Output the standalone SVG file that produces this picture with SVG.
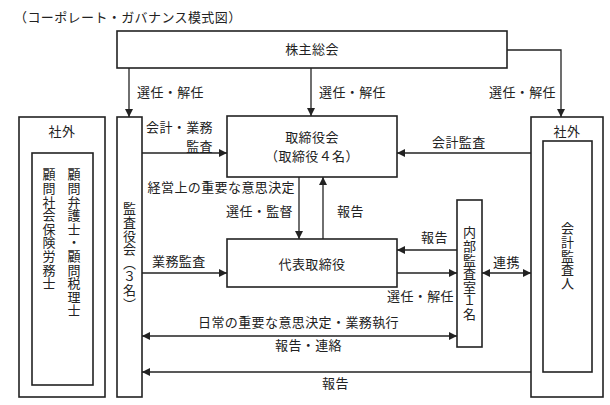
<svg xmlns="http://www.w3.org/2000/svg" width="610" height="405" viewBox="0 0 610 405">
<defs>
<style>
text{font-family:"Noto Sans CJK JP","Noto Sans CJK SC",sans-serif;font-size:13px;letter-spacing:0.4px;fill:#222;}
.box{fill:#fff;stroke:#222;stroke-width:1.6;}
.ln{fill:none;stroke:#222;stroke-width:1.3;}
.c{text-anchor:middle;}
.e{text-anchor:end;}
.v{writing-mode:vertical-rl;letter-spacing:0.6px;}
</style>
<marker id="ah" viewBox="0 0 10 10" refX="10" refY="5" markerWidth="8" markerHeight="8" markerUnits="userSpaceOnUse" orient="auto-start-reverse">
<path d="M0,0 L10,5 L0,10 Z" fill="#222"/>
</marker>
</defs>
<rect width="610" height="405" fill="#fff"/>
<text x="14" y="22">（コーポレート・ガバナンス模式図）</text>

<g id="shareholders">
<rect class="box" x="117" y="31" width="390" height="37"/>
<text class="c" x="312" y="54">株主総会</text>
</g>
<g id="outside-left">
<rect class="box" x="19" y="117" width="86" height="280"/>
<text class="c" x="62" y="136">社外</text>
<rect class="box" x="32" y="153" width="61" height="232"/>
<text class="v" x="74" y="168">顧問弁護士・顧問税理士</text>
<text class="v" x="49" y="168">顧問社会保険労務士</text>
</g>
<g id="auditors">
<rect class="box" x="117" y="117" width="25" height="280"/>
<text class="v" x="129.5" y="202">監査役会（３名）</text>
</g>
<g id="board">
<rect class="box" x="227" y="116" width="170" height="61"/>
<text class="c" x="312" y="142">取締役会</text>
<text class="c" x="312" y="161">（取締役４名）</text>
</g>
<g id="representative">
<rect class="box" x="227" y="239" width="170" height="48"/>
<text class="c" x="312" y="269">代表取締役</text>
</g>
<g id="internal-audit">
<rect class="box" x="457" y="200" width="25" height="147"/>
<text class="v" x="469.5" y="226">内部監査室１名</text>
</g>
<g id="outside-right">
<rect class="box" x="531" y="117" width="72" height="280"/>
<text class="c" x="567" y="136">社外</text>
<rect class="box" x="543" y="141" width="49" height="231"/>
<text class="v" x="567.5" y="222">会計監査人</text>
</g>

<g id="connectors">
<path class="ln" d="M129,68 V117" marker-end="url(#ah)"/>
<path class="ln" d="M311,68 V116" marker-end="url(#ah)"/>
<path class="ln" d="M507,50 H561 V117" marker-end="url(#ah)"/>
<path class="ln" d="M142,153 H227" marker-end="url(#ah)"/>
<path class="ln" d="M531,153 H397" marker-end="url(#ah)"/>
<path class="ln" d="M299,177 V239" marker-end="url(#ah)"/>
<path class="ln" d="M323,239 V177" marker-end="url(#ah)"/>
<path class="ln" d="M142,273 H227" marker-end="url(#ah)"/>
<path class="ln" d="M457,250 H397" marker-end="url(#ah)"/>
<path class="ln" d="M397,273 H457" marker-end="url(#ah)"/>
<path class="ln" d="M482,273 H531" marker-start="url(#ah)" marker-end="url(#ah)"/>
<path class="ln" d="M142,336 H457" marker-start="url(#ah)" marker-end="url(#ah)"/>
<path class="ln" d="M531,372 H142" marker-end="url(#ah)"/>
</g>

<g id="labels">
<text x="137" y="97">選任・解任</text>
<text x="319" y="97">選任・解任</text>
<text class="e" x="556" y="97">選任・解任</text>
<text class="e" x="213" y="132">会計・業務</text>
<text class="e" x="213" y="151">監査</text>
<text x="432" y="147">会計監査</text>
<text class="e" x="295" y="192">経営上の重要な意思決定</text>
<text class="e" x="293" y="216">選任・監督</text>
<text x="337" y="216">報告</text>
<text x="421" y="242">報告</text>
<text x="152" y="266">業務監査</text>
<text x="493" y="267">連携</text>
<text class="e" x="454" y="301">選任・解任</text>
<text x="198" y="327">日常の重要な意思決定・業務執行</text>
<text x="275" y="350">報告・連絡</text>
<text x="322" y="388">報告</text>
</g>
</svg>
